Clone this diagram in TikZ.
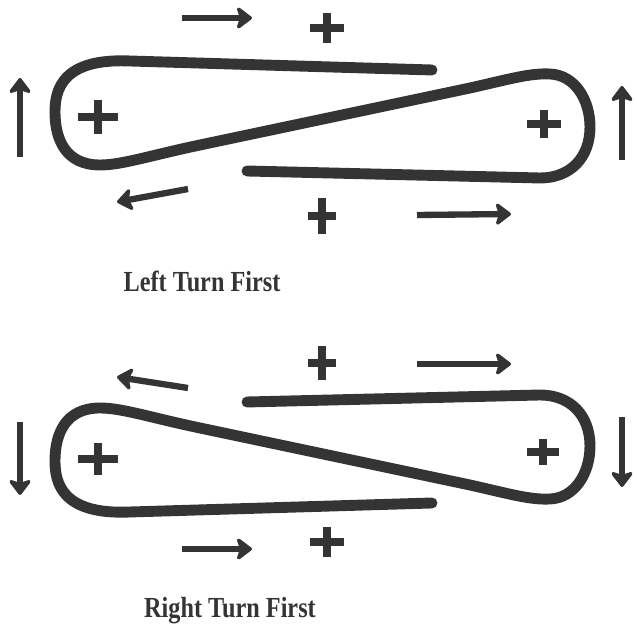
\documentclass[tikz,border=0pt]{standalone}
\usepackage{graphicx}
\usepackage{fontspec}
\setmainfont{Liberation Serif}
\usepackage{tikz}
\usetikzlibrary{arrows.meta}
\definecolor{ink}{RGB}{52,52,52}

\begin{document}
\begin{tikzpicture}[x=0.02cm,y=-0.02cm,
    loopline/.style={ink,line width=6.2pt,line cap=round,line join=round},
    turnarrow/.style={ink,line width=3.6pt,-{Stealth[length=10pt,width=15pt,inset=2.5pt,round]}},
    plusmark/.style={ink,line width=4pt},
    caption/.style={ink,font=\bfseries\fontsize{13.8}{16}\selectfont,anchor=base}]
  \useasboundingbox (0,0) rectangle (637,634);
  % left turn first
  \begin{scope}
    \draw[loopline] (432,70) -- (130,61)
      .. controls (62,58) and (55,90) .. (55,112)
      .. controls (55,140) and (66,165) .. (100,165)
      .. controls (122,165) and (150,155.5) .. (200,145) -- (470,88)
      .. controls (510,79) and (530,73) .. (550,74)
      .. controls (575,75) and (590,100) .. (590,127)
      .. controls (590,158) and (570,178) .. (540,178) -- (247,171);
    \foreach \px/\py/\hx/\hy in {98/117/20/17, 327/28/17/15, 544/124/17/14, 322/216/14/18}
      \draw[plusmark] (\px-\hx,\py) -- (\px+\hx,\py) (\px,\py-\hy) -- (\px,\py+\hy);
    \draw[turnarrow] (182,18) -- (252,18);
    \draw[turnarrow] (20,157) -- (20,78);
    \draw[turnarrow] (188,189) -- (117,202);
    \draw[turnarrow] (622,160) -- (622,86);
    \draw[turnarrow] (417,215) -- (511,214);
    \node[caption] (lefttitle) at (202,292) {\scalebox{1}[1.2]{Left Turn First}};
  \end{scope}
  % right turn first
  \begin{scope}
    \begin{scope}[shift={(0,573)},yscale=-1]
      \draw[loopline] (432,70) -- (130,61)
        .. controls (62,58) and (55,90) .. (55,112)
        .. controls (55,140) and (66,165) .. (100,165)
        .. controls (122,165) and (150,155.5) .. (200,145) -- (470,88)
        .. controls (510,79) and (530,73) .. (550,74)
        .. controls (575,75) and (590,100) .. (590,127)
        .. controls (590,158) and (570,178) .. (540,178) -- (247,171);
    \end{scope}
    \foreach \px/\py/\hx/\hy in {98/459/20/16, 322/363/14/17, 543/452/16/13, 327/542/17/15}
      \draw[plusmark] (\px-\hx,\py) -- (\px+\hx,\py) (\px,\py-\hy) -- (\px,\py+\hy);
    \draw[turnarrow] (188,388) -- (117,377);
    \draw[turnarrow] (417,364) -- (511,364);
    \draw[turnarrow] (20,422) -- (20,495);
    \draw[turnarrow] (622,417) -- (622,487);
    \draw[turnarrow] (182,549) -- (252,549);
    \node[caption] (righttitle) at (230,618) {\scalebox{1}[1.2]{Right Turn First}};
  \end{scope}
\end{tikzpicture}
\end{document}
